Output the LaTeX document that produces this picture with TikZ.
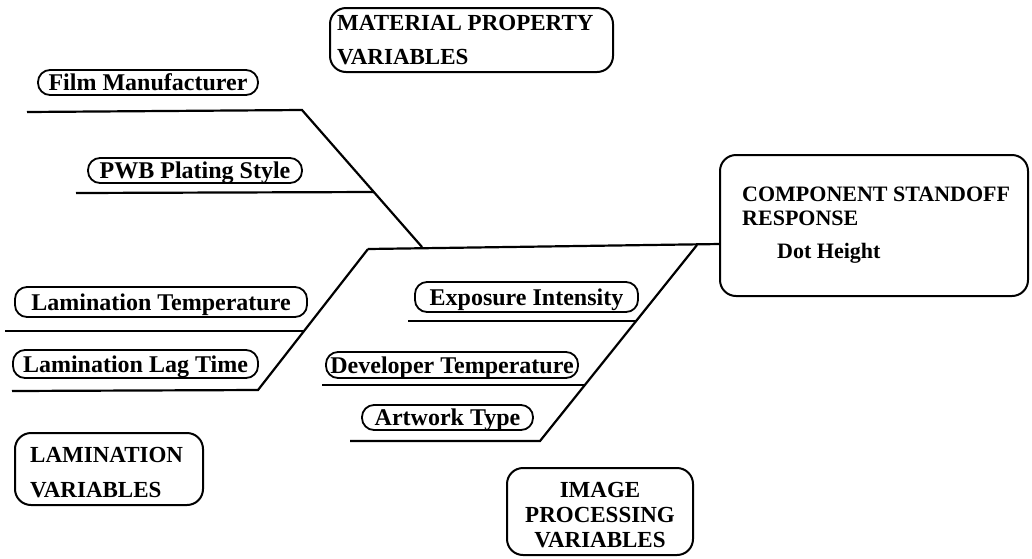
\documentclass[tikz,border=0pt]{standalone}
\usepackage{fontspec}
\setmainfont{Liberation Serif}
\begin{document}
\begin{tikzpicture}[x=1pt,y=-1pt,
  pill/.style={draw,line width=1.8pt,rounded corners=12pt,inner sep=0pt,
    text height=18pt,text depth=2pt,
    font=\fontsize{24}{26}\bfseries\selectfont},
  bigbox/.style={draw,line width=2pt,rounded corners=16pt,inner sep=0pt},
  bone/.style={line width=2.2pt},
  lbl/.style={font=\fontsize{23}{25}\bfseries\selectfont,inner sep=0pt,anchor=base west},
  clbl/.style={font=\fontsize{23}{25}\bfseries\selectfont,inner sep=0pt,anchor=base}]
\useasboundingbox (0,0) rectangle (1032,558);

% big boxes
\node[bigbox,minimum width=283pt,minimum height=64pt] (mat) at (471.5,40) {};
\node[bigbox,minimum width=308pt,minimum height=141pt] (comp) at (874,225.5) {};
\node[bigbox,minimum width=188pt,minimum height=72pt] (lam) at (109,469) {};
\node[bigbox,minimum width=186pt,minimum height=87pt] (img) at (600,511.5) {};

% box texts
\node[lbl] (matA) at (337,30) {MATERIAL PROPERTY};
\node[lbl] (matB) at (337,64) {VARIABLES};
\node[lbl,font=\fontsize{22}{24}\bfseries\selectfont] (compA) at (742,201) {COMPONENT STANDOFF};
\node[lbl,font=\fontsize{22}{24}\bfseries\selectfont] (compB) at (742,225) {RESPONSE};
\node[lbl,font=\fontsize{22}{24}\bfseries\selectfont] (compC) at (777,258) {Dot Height};
\node[lbl] (lamA) at (30,462) {LAMINATION};
\node[lbl] (lamB) at (30,497) {VARIABLES};
\node[clbl] (imgA) at (600,497) {IMAGE};
\node[clbl] (imgB) at (600,522) {PROCESSING};
\node[clbl] (imgC) at (600,547) {VARIABLES};

% pills
\node[pill,minimum width=220pt,minimum height=25pt] (film) at (148,82.5) {Film Manufacturer};
\node[pill,minimum width=214pt,minimum height=25pt] (pwb) at (195,170.5) {PWB Plating Style};
\node[pill,minimum width=292pt,minimum height=30pt] (ltemp) at (161,302) {Lamination Temperature};
\node[pill,minimum width=245pt,minimum height=28pt] (llag) at (135.5,364) {Lamination Lag Time};
\node[pill,minimum width=223pt,minimum height=30pt] (expo) at (526.5,297) {Exposure Intensity};
\node[pill,minimum width=252pt,minimum height=26pt] (dev) at (452,365) {Developer Temperature};
\node[pill,minimum width=171pt,minimum height=25pt] (art) at (447.5,417.5) {Artwork Type};

% skeleton points
\coordinate (fmL) at (27,112);
\coordinate (fmB) at (302,110);
\coordinate (upJ) at (422,247);
\coordinate (pwL) at (76,193);
\coordinate (pwR) at (374,192);
\coordinate (lbT) at (368,249);
\coordinate (spR) at (720,244);
\coordinate (lbB) at (258,390);
\coordinate (ltL) at (5,331);
\coordinate (ltR) at (304,331);
\coordinate (llL) at (12,391);
\coordinate (rbT) at (697,245);
\coordinate (rbB) at (540,441);
\coordinate (exL) at (408,321);
\coordinate (exR) at (636,321);
\coordinate (dvL) at (322,385);
\coordinate (dvR) at (585,385);
\coordinate (atL) at (350,441);

% bones
\draw[bone] (fmL) -- (fmB) -- (upJ);
\draw[bone] (pwL) -- (pwR);
\draw[bone] (lbT) -- (spR);
\draw[bone] (lbT) -- (lbB) -- (llL);
\draw[bone] (ltL) -- (ltR);
\draw[bone] (rbT) -- (rbB) -- (atL);
\draw[bone] (exL) -- (exR);
\draw[bone] (dvL) -- (dvR);
\end{tikzpicture}
\end{document}
